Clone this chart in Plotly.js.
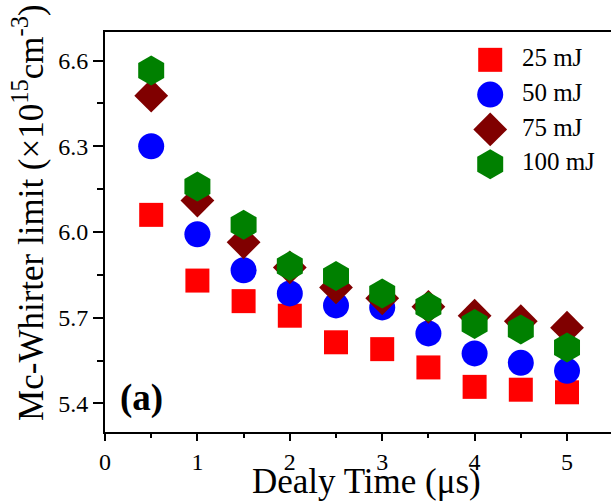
<!DOCTYPE html>
<html>
<head>
<meta charset="utf-8">
<script src="https://cdn.plot.ly/plotly-3.0.1.min.js"></script>
<style>html,body{margin:0;padding:0;background:#fff;}#chart{width:611px;height:501px;}</style>
</head>
<body>
<div id="chart"></div>
<script>
// Delay time (µs)
const delayTime = [0.5, 1, 1.5, 2, 2.5, 3, 3.5, 4, 4.5, 5];
// Mc-Whirter limit (x10^15 cm^-3) per laser energy
const limit25 = [6.060, 5.830, 5.758, 5.707, 5.614, 5.590, 5.526, 5.458, 5.448, 5.439];
const limit50 = [6.300, 5.992, 5.866, 5.785, 5.743, 5.736, 5.645, 5.575, 5.542, 5.514];
const limit75 = [6.477, 6.110, 5.964, 5.876, 5.806, 5.768, 5.738, 5.707, 5.688, 5.665];
const limit100 = [6.565, 6.159, 6.025, 5.881, 5.846, 5.785, 5.738, 5.678, 5.659, 5.596];
const seriesNames = ['25 mJ', '50 mJ', '75 mJ', '100 mJ'];
const xTickVals = [0, 1, 2, 3, 4, 5];
const yTickVals = [5.4, 5.7, 6.0, 6.3, 6.6];

const FONT = "'Liberation Serif', 'Times New Roman', serif";
const seriesValues = [limit25, limit50, limit75, limit100];
const markerStyles = [
  {symbol: 'square', size: 24, color: '#ff0000'},
  {symbol: 'circle', size: 26, color: '#0000ff'},
  {symbol: 'diamond', size: 26, color: '#800000'},
  {symbol: 'hexagon', size: 30, color: '#008000'}
];

const traces = [];
seriesValues.forEach((vals, i) => {
  traces.push({
    x: delayTime, y: vals, name: seriesNames[i], type: 'scatter', mode: 'markers',
    marker: {symbol: markerStyles[i].symbol, size: markerStyles[i].size, color: markerStyles[i].color, line: {width: 0}},
    showlegend: false, cliponaxis: false
  });
});
// legend drawn on hidden overlay axes (index = row)
seriesNames.forEach((nm, i) => {
  traces.push({
    x: [0], y: [i], xaxis: 'x2', yaxis: 'y2', type: 'scatter', mode: 'markers',
    marker: {symbol: markerStyles[i].symbol, size: markerStyles[i].size, color: markerStyles[i].color, line: {width: 0}},
    showlegend: false, hoverinfo: 'skip', cliponaxis: false
  });
});
traces.push({
  x: seriesNames.map(() => 1), y: seriesNames.map((_, i) => i), xaxis: 'x2', yaxis: 'y2',
  type: 'scatter', mode: 'text', text: seriesNames, textposition: 'middle right',
  textfont: {family: FONT, size: 25, color: '#000'}, showlegend: false, hoverinfo: 'skip', cliponaxis: false
});

const layout = {
  width: 611, height: 501,
  margin: {l: 105, r: 0, t: 32, b: 69, pad: 0},
  paper_bgcolor: '#fff', plot_bgcolor: '#fff',
  font: {family: FONT, color: '#000', size: 24},
  showlegend: false,
  xaxis: {
    range: [0, 5.476], tickvals: xTickVals, ticktext: xTickVals.map(String),
    ticks: 'outside', ticklen: 7, tickwidth: 2, tickcolor: '#000',
    showline: true, linewidth: 2, linecolor: '#000', mirror: true,
    showgrid: false, zeroline: false, tickfont: {family: FONT, size: 24, color: '#000'},
    minor: {dtick: 0.5, tick0: 0, ticks: 'outside', ticklen: 4, tickwidth: 2, tickcolor: '#000', showgrid: false}
  },
  yaxis: {
    range: [5.3, 6.7], tickvals: yTickVals, ticktext: yTickVals.map(v => v.toFixed(1)),
    ticks: 'outside', ticklen: 10, tickwidth: 2, tickcolor: '#000',
    showline: true, linewidth: 2, linecolor: '#000', mirror: false,
    showgrid: false, zeroline: false, tickfont: {family: FONT, size: 24, color: '#000'},
    minor: {dtick: 0.15, tick0: 5.4, ticks: 'outside', ticklen: 6, tickwidth: 2, tickcolor: '#000', showgrid: false}
  },
  xaxis2: {overlaying: 'x', range: [-12.15, 3.81], visible: false, fixedrange: true},
  yaxis2: {overlaying: 'y', range: [10.7, -0.8], visible: false, fixedrange: true},
  annotations: [
    {text: 'Dealy Time (μs)', xref: 'paper', yref: 'paper', x: 0.517, y: -0.123,
     xanchor: 'center', yanchor: 'middle', showarrow: false, font: {family: FONT, size: 35, color: '#000'}},
    {text: 'Mc-Whirter limit (×10<sup>15</sup>cm<sup>-3</sup>)', xref: 'paper', yref: 'paper', x: -0.15, y: 0.548,
     xanchor: 'center', yanchor: 'middle', textangle: -90, showarrow: false, font: {family: FONT, size: 35, color: '#000'}},
    {text: '<b>(a)</b>', xref: 'paper', yref: 'paper', x: 0.073, y: 0.086,
     xanchor: 'center', yanchor: 'middle', showarrow: false, font: {family: FONT, size: 37, color: '#000'}}
  ]
};

Plotly.newPlot('chart', traces, layout, {displayModeBar: false, staticPlot: true});
</script>
</body>
</html>
